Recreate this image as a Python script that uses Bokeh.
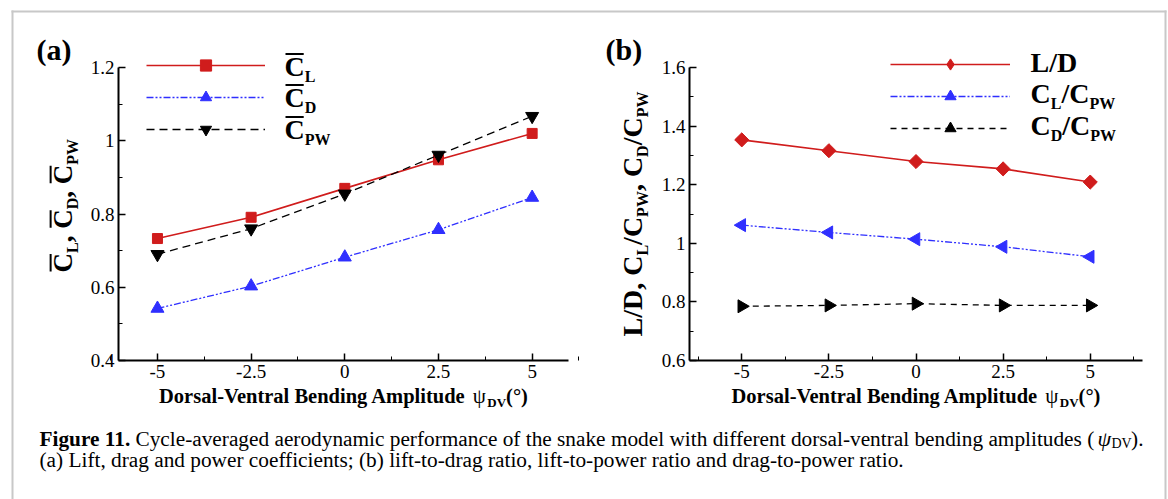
import math
from bokeh.plotting import figure
from bokeh.models import (Label, BoxAnnotation, Legend, LegendItem, FixedTicker,
                          CustomJSTickFormatter, Range1d, LinearAxis)
from bokeh.embed import file_html
from bokeh.resources import INLINE

# ---------------- data ----------------
amplitude = [-5, -2.5, 0, 2.5, 5]
c_lift = [0.733, 0.791, 0.870, 0.948, 1.020]
c_drag = [0.542, 0.603, 0.682, 0.757, 0.845]
c_power = [0.690, 0.760, 0.855, 0.961, 1.067]
lift_drag = [1.353, 1.316, 1.279, 1.254, 1.209]
lift_power = [1.062, 1.037, 1.014, 0.988, 0.954]
drag_power = [0.785, 0.788, 0.794, 0.788, 0.788]

x_ticks = [-5, -2.5, 0, 2.5, 5]
x_minor = [-6.25, -3.75, -1.25, 1.25, 3.75, 6.25]
ya_ticks = [0.4, 0.6, 0.8, 1.0, 1.2]
ya_minor = [0.5, 0.7, 0.9, 1.1]
yb_ticks = [0.6, 0.8, 1.0, 1.2, 1.4, 1.6]
yb_minor = [0.7, 0.9, 1.1, 1.3, 1.5]
xa_span = (-6.04, 5.97)
xb_span = (-6.5, 6.5)

caption_bold = "Figure 11."
caption_1 = ("Cycle-averaged aerodynamic performance of the snake model with "
             "different dorsal-ventral bending amplitudes (")
caption_2 = ("(a) Lift, drag and power coefficients; (b) lift-to-drag ratio, "
             "lift-to-power ratio and drag-to-power ratio.")

# ---------------- style / geometry ----------------
FONT = "Liberation Serif"
RED = "#d01c1c"
BLUE = "#2f2fff"
BLACK = "#000000"
W, H = 1168, 499
TOP, BOT = 67, 360            # page pixel rows of the axes' top and bottom
A_L, A_R = 118, 568           # panel (a) axes box, page pixel columns
B_L, B_R = 689, 1142          # panel (b) axes box
K = 0.36                      # baseline correction (fraction of font size)


def page_range(lo, hi, p_lo, p_hi, p_total, inverted=False):
    """Range for a whole-page frame so that lo..hi lands on page pixels p_lo..p_hi."""
    ppu = (p_hi - p_lo) / (hi - lo)
    if not inverted:
        return Range1d(lo - p_lo / ppu, hi + (p_total - p_hi) / ppu)
    return Range1d(lo - (p_total - p_hi) / ppu, hi + p_lo / ppu)


p = figure(width=W, height=H, output_backend="svg", toolbar_location=None,
           x_axis_location=None, y_axis_location=None, title_location=None,
           min_border=0,
           x_range=page_range(xa_span[0], xa_span[1], A_L, A_R, W),
           y_range=page_range(ya_ticks[0], ya_ticks[-1], TOP, BOT, H, True))
p.extra_x_ranges = {"xb": page_range(xb_span[0], xb_span[1], B_L, B_R, W)}
p.extra_y_ranges = {"yb": page_range(yb_ticks[0], yb_ticks[-1], TOP, BOT, H, True)}
p.grid.visible = False
p.outline_line_color = None

fmt = "return String(Math.round(tick*100)/100);"


def style_axis(ax):
    ax.axis_line_width = 2
    ax.axis_line_color = BLACK
    ax.major_tick_in = 7
    ax.major_tick_out = 0
    ax.minor_tick_in = 4
    ax.minor_tick_out = 0
    ax.major_tick_line_width = 1.5
    ax.minor_tick_line_width = 1
    ax.major_tick_line_color = BLACK
    ax.minor_tick_line_color = BLACK
    ax.major_label_text_font = FONT
    ax.major_label_text_font_size = "19px"
    ax.major_label_text_color = BLACK
    ax.major_label_standoff = 4
    ax.formatter = CustomJSTickFormatter(code=fmt)
    return ax


def add_axes(xspan, yticks, yminor, **names):
    xa = LinearAxis(ticker=FixedTicker(ticks=x_ticks, minor_ticks=x_minor),
                    fixed_location=yticks[0], bounds=xspan, **names)
    ya = LinearAxis(ticker=FixedTicker(ticks=yticks, minor_ticks=yminor),
                    fixed_location=xspan[0], bounds=(yticks[0], yticks[-1]), **names)
    p.add_layout(style_axis(xa), "below")
    p.add_layout(style_axis(ya), "left")


add_axes(xa_span, ya_ticks, ya_minor)
add_axes(xb_span, yb_ticks, yb_minor, x_range_name="xb", y_range_name="yb")


def series(y, color, dash, marker, size, angle=0.0, lw=1.5, **names):
    ln = p.line(amplitude, y, line_color=color, line_width=lw, line_dash=dash, **names)
    sc = p.scatter(amplitude, y, marker=marker, size=size, angle=angle,
                   fill_color=color, line_color=color, **names)
    return [ln, sc]


def add_legend(groups, gx_page, gy_page_bottom, gw):
    items = [LegendItem(label=" ", renderers=g) for g in groups]
    lg = Legend(items=items, location=(gx_page, H - gy_page_bottom), glyph_width=gw,
                glyph_height=28, spacing=4, padding=0, margin=0, border_line_alpha=0,
                background_fill_alpha=0, label_standoff=0, label_width=0,
                label_text_font_size="1px", label_height=1)
    p.add_layout(lg, "center")


# ---------------- panel (a) ----------------
ga = [series(c_lift, RED, "solid", "square", 10, lw=1.6),
      series(c_drag, BLUE, "7 2 2 2 2 2", "triangle", 13, lw=1.3),
      series(c_power, BLACK, "8 5", "inverted_triangle", 13, lw=1.3)]
add_legend(ga, 146, 143, 119)

# ---------------- panel (b) ----------------
nb = dict(x_range_name="xb", y_range_name="yb")
# diamond key for the legend (hidden under the rotated squares on the plot)
ld_key = p.scatter(amplitude, lift_drag, marker="diamond", size=12,
                   fill_color=RED, line_color=RED, **nb)
ld_line, ld_pts = series(lift_drag, RED, "solid", "square", 10, angle=math.pi / 4,
                         lw=1.6, **nb)
gb = [[ld_line, ld_key],
      series(lift_power, BLUE, "7 2 2 2 2 2", "triangle", 13, angle=math.pi / 2, lw=1.3, **nb),
      series(drag_power, BLACK, "6 5", "triangle", 13, angle=-math.pi / 2, lw=1.3, **nb)]
add_legend(gb, 890, 142, 120)

# ---------------- texts ----------------
BWID = {'C': 722, 'L': 667, 'D': 722, 'P': 611, 'W': 1000, '/': 278, ',': 250, ' ': 250,
        '(': 333, ')': 333, 'a': 500, 'b': 556, 'V': 722, '°': 400, 'o': 500, 'r': 444,
        's': 389, 'l': 278, '-': 333, 'e': 444, 'n': 556, 't': 333, 'B': 667, 'i': 278,
        'd': 556, 'g': 500, 'A': 722, 'm': 833, 'p': 556, 'u': 556, 'ψ': 690}
RWID = {'ψ': 690, 'D': 722, 'V': 722, ')': 333, '.': 250, '(': 333}


def tw(text, size, bold=True):
    table = BWID if bold else RWID
    return sum(table.get(ch, 500) for ch in text) * size / 1000.0


def run(text, size, bold=True, shift=0, over=False, italic=False):
    return dict(text=text, size=size, bold=bold, shift=shift, over=over, italic=italic)


def runs_len(runs):
    return sum(tw(r['text'], r['size'], r['bold']) for r in runs)


def box(left, right, top, bottom, color):
    p.add_layout(BoxAnnotation(left=left, right=right, bottom=H - bottom, top=H - top,
                               left_units="screen", right_units="screen",
                               bottom_units="screen", top_units="screen",
                               fill_color=color, fill_alpha=1.0, line_alpha=0))


def label(x, y, text, size, style="bold", align="left", angle=0.0):
    """x, y: page pixels of the text's baseline start (y down)."""
    if angle == 0.0:
        y = y - K * size
    else:
        x = x - K * size
    p.add_layout(Label(x=x, y=H - y, x_units="screen", y_units="screen",
                       text=text, angle=angle, text_font=FONT,
                       text_font_size=f"{size}px", text_font_style=style,
                       text_color=BLACK, text_baseline="alphabetic",
                       text_align=align))


def put_runs(x0, y0, runs, vertical=False):
    """x0, y0 in page pixels (baseline start); vertical text reads upward."""
    pos = 0.0
    for r in runs:
        w = tw(r['text'], r['size'], r['bold'])
        style = "normal"
        if r['bold'] and r['italic']:
            style = "bold italic"
        elif r['bold']:
            style = "bold"
        elif r['italic']:
            style = "italic"
        if vertical:
            label(x0 + r['shift'], y0 - pos, r['text'], r['size'], style, angle=math.pi / 2)
        else:
            label(x0 + pos, y0 + r['shift'], r['text'], r['size'], style)
        if r['over']:
            cap = 0.662 * r['size']
            if vertical:
                box(x0 - cap - 5, x0 - cap - 3, y0 - pos - w + 1, y0 - pos - 1, BLACK)
            else:
                box(x0 + pos + 1, x0 + pos + w - 1, y0 - cap - 5, y0 - cap - 3, BLACK)
        pos += w
    return pos


# outer frame of the figure page
box(11, 13, 10, H, "#c8c8c8")
box(11, 1166, 10, 12, "#c8c8c8")
box(1164, 1166, 10, H, "#c8c8c8")

put_runs(36, 60, [run("(a)", 30)])
put_runs(605, 60, [run("(b)", 30)])

for (sub, by) in (("L", 76), ("D", 107), ("PW", 139)):
    put_runs(284, by, [run("C", 28, over=True), run(sub, 16, shift=6)])

put_runs(1030, 72, [run("L/D", 28)])
put_runs(1030, 103, [run("C", 28), run("L", 16, shift=6), run("/", 28),
                     run("C", 28), run("PW", 16, shift=6)])
put_runs(1030, 135, [run("C", 28), run("D", 16, shift=6), run("/", 28),
                     run("C", 28), run("PW", 16, shift=6)])

ya_runs = [run("C", 27, over=True), run("L", 16, shift=6), run(", ", 27),
           run("C", 27, over=True), run("D", 16, shift=6), run(", ", 27),
           run("C", 27, over=True), run("PW", 16, shift=6)]
put_runs(72, 272, ya_runs, vertical=True)

yb_runs = [run("L/D, ", 28), run("C", 28), run("L", 16, shift=6), run("/", 28),
           run("C", 28), run("PW", 16, shift=6), run(", ", 28), run("C", 28),
           run("D", 16, shift=6), run("/", 28), run("C", 28), run("PW", 16, shift=6)]
yl = runs_len(yb_runs)
put_runs(642, 213.5 + yl / 2, yb_runs, vertical=True)

x_runs = [run("Dorsal-Ventral Bending Amplitude ", 20.5), run("ψ", 21, bold=False),
          run("DV", 13, shift=4), run("(°)", 20.5)]
xl = runs_len(x_runs)
put_runs((A_L + A_R) / 2 - xl / 2, 403, x_runs)
put_runs((B_L + B_R) / 2 - xl / 2, 403, x_runs)

# caption
CS = 21.3
label(39, 446, caption_bold, CS, "bold")
label(135, 446, caption_1, CS, "normal")
label(1097, 446, "ψ", 22, "italic")
label(1111, 448, "DV", 14, "normal")
label(1143, 446, ").", CS, "normal", align="right")
label(39, 467, caption_2, CS, "normal")

open("out.html", "w").write(file_html(p, INLINE))
